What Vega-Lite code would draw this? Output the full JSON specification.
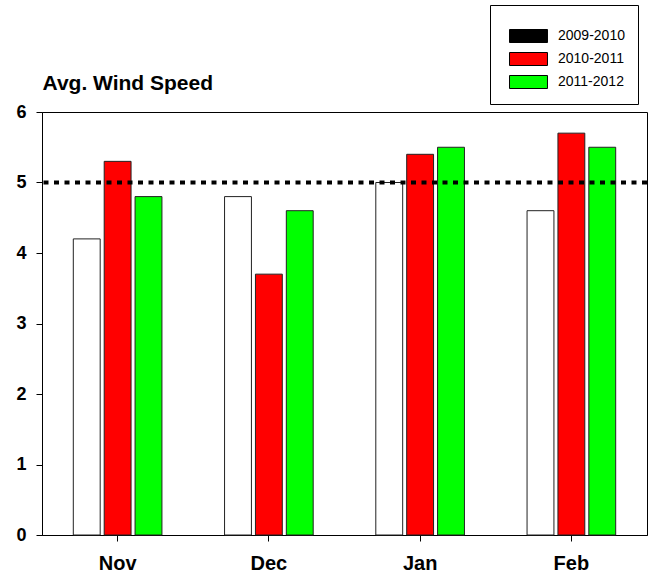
{
  "$schema": "https://vega.github.io/schema/vega-lite/v6.json",
  "width": 605,
  "height": 423,
  "autosize": {"type": "none"},
  "padding": {"left": 42, "top": 112, "right": 3, "bottom": 46},
  "background": "white",
  "config": {
    "view": {"stroke": "black", "strokeWidth": 1},
    "font": "Liberation Sans"
  },
  "data": {
    "values": [
      {"month": "Nov", "season": "2009-2010", "speed": 4.2},
      {"month": "Nov", "season": "2010-2011", "speed": 5.3},
      {"month": "Nov", "season": "2011-2012", "speed": 4.8},
      {"month": "Dec", "season": "2009-2010", "speed": 4.8},
      {"month": "Dec", "season": "2010-2011", "speed": 3.7},
      {"month": "Dec", "season": "2011-2012", "speed": 4.6},
      {"month": "Jan", "season": "2009-2010", "speed": 5.0},
      {"month": "Jan", "season": "2010-2011", "speed": 5.4},
      {"month": "Jan", "season": "2011-2012", "speed": 5.5},
      {"month": "Feb", "season": "2009-2010", "speed": 4.6},
      {"month": "Feb", "season": "2010-2011", "speed": 5.7},
      {"month": "Feb", "season": "2011-2012", "speed": 5.5}
    ]
  },
  "layer": [
    {
      "mark": {"type": "bar", "stroke": "#222", "strokeWidth": 1},
      "encoding": {
        "x": {
          "field": "month",
          "type": "nominal",
          "sort": ["Nov", "Dec", "Jan", "Feb"],
          "scale": {"paddingInner": 0.414, "paddingOuter": 0.207},
          "axis": {
            "title": null,
            "labelAngle": 0,
            "labelFont": "Liberation Sans",
            "labelFontWeight": "bold",
            "labelFontSize": 20,
            "labelColor": "black",
            "labelPadding": 12,
            "tickSize": 6,
            "tickColor": "black",
            "domainColor": "black"
          }
        },
        "xOffset": {
          "field": "season",
          "type": "nominal",
          "scale": {"paddingInner": 0.13, "paddingOuter": 0}
        },
        "y": {
          "field": "speed",
          "type": "quantitative",
          "scale": {"domain": [0, 6], "nice": false},
          "axis": {
            "title": "Avg. Wind Speed",
            "titleAngle": 0,
            "titleAlign": "left",
            "titleBaseline": "alphabetic",
            "titleX": 0,
            "titleY": -23,
            "titleFont": "Liberation Sans",
            "titleFontWeight": "bold",
            "titleFontSize": 21,
            "titleColor": "black",
            "values": [0, 1, 2, 3, 4, 5, 6],
            "format": "d",
            "grid": false,
            "labelFont": "Liberation Sans",
            "labelFontWeight": "bold",
            "labelFontSize": 18,
            "labelColor": "black",
            "labelPadding": 10,
            "tickSize": 6,
            "tickColor": "black",
            "domainColor": "black"
          }
        },
        "fill": {
          "condition": {"test": "datum.season === '2009-2010'", "value": "white"},
          "field": "season",
          "type": "nominal",
          "scale": {
            "domain": ["2009-2010", "2010-2011", "2011-2012"],
            "range": ["black", "#ff0000", "#00ff00"]
          },
          "legend": {
            "title": " ",
            "titleFontSize": 9,
            "titlePadding": 2,
            "orient": "none",
            "legendX": 448,
            "legendY": -107,
            "padding": 13,
            "strokeColor": "black",
            "fillColor": "white",
            "symbolType": "M-2.92,-1H2.92V1H-2.92Z",
            "symbolSize": 169,
            "symbolStrokeColor": "black",
            "symbolStrokeWidth": 1,
            "symbolOffset": 18.5,
            "labelOffset": 22.5,
            "labelFont": "Liberation Sans",
            "labelFontSize": 14,
            "labelColor": "black",
            "rowPadding": 5
          }
        }
      }
    },
    {
      "data": {"values": [{"ref": 5}]},
      "mark": {"type": "rule", "color": "black", "strokeWidth": 4, "strokeDash": [5, 5.5]},
      "encoding": {
        "y": {"field": "ref", "type": "quantitative"}
      }
    }
  ]
}
